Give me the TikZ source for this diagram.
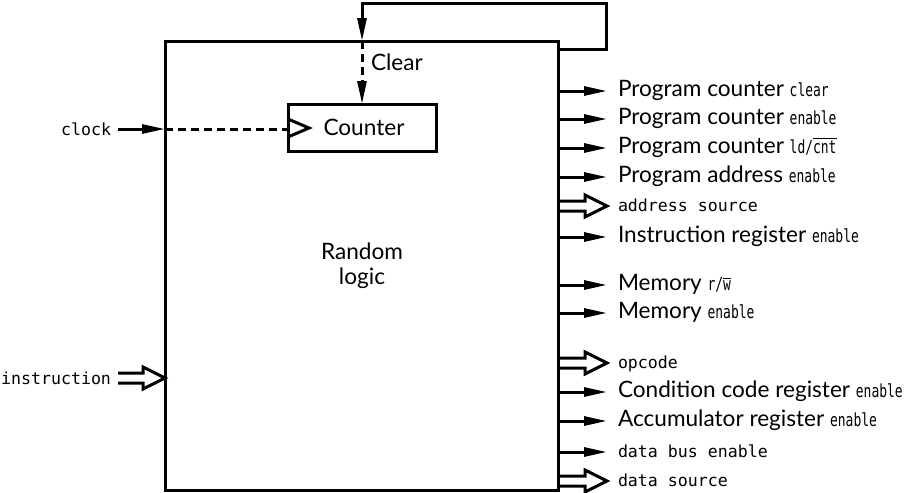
\documentclass[tikz,border=0pt]{standalone}
\usepackage{fontspec}
\setmainfont{Lato}
\newfontfamily\monof{DejaVu Sans Mono}
\newfontfamily\monon{DejaVu Sans Mono}[FakeStretch=0.72]
\usetikzlibrary{arrows.meta,calc}
\newcommand{\mt}[1]{{\monof\fontsize{8.3}{10}\selectfont #1}}
\newcommand{\mi}[1]{{\monon\fontsize{9}{10}\selectfont #1}}
\begin{document}
\begin{tikzpicture}[x=0.5pt,y=-0.5pt,
  every node/.style={font=\fontsize{11.3}{12.5}\selectfont, inner sep=0pt, outer sep=0pt},
  thick line/.style={line width=1.5pt},
  sig/.style={line width=1.5pt, -{Triangle[length=11.5pt,width=4.5pt]}},
  dashsig/.style={line width=1.5pt, dash pattern=on 4pt off 2.5pt},
  bus/.style={line width=1.5pt, line join=miter, to path={
     ($(\tikztostart)+(0,-5)$) -- ($(\tikztotarget)+(-22,-5)$) -- ($(\tikztotarget)+(-22,-11)$)
     -- (\tikztotarget) -- ($(\tikztotarget)+(-22,11)$) -- ($(\tikztotarget)+(-22,5)$)
     -- ($(\tikztostart)+(0,5)$)}},
  lbl/.style={anchor=west, text height=8pt, text depth=2.2pt}
]
\useasboundingbox (0,0) rectangle (907,493);

% main block
\node[draw, thick line, minimum width=196.5pt, minimum height=224.5pt] (box) at (361.5,265.5) {};
\node[align=center] (rl) at (362,266) {Random\\logic};

% counter
\node[draw, thick line, minimum width=74pt, minimum height=23.5pt] (ctr) at (362,127.5) {\hspace*{2pt}Counter};
\draw[thick line, line join=miter] (288,119) -- (309,128) -- (288,137);

% clear feedback loop
\coordinate (fbout) at (box.east |- 0,49);
\coordinate (fbr) at (606,49);
\coordinate (fbtr) at (606,3);
\coordinate (fbtl) at (362,3);
\coordinate (clrin) at (362,41);
\draw[sig, line join=miter] (fbout) -- (fbr) -- (fbtr) -- (fbtl) -- (clrin);
\draw[dashsig, -{Triangle[length=11.5pt,width=4.5pt]}] (clrin) -- (ctr.north);
\node[anchor=west] (clear) at (371,62) {Clear};

% clock
\node[anchor=east] (clock) at (111,129) {\mt{clock}};
\coordinate (clkin) at (box.west |- clock);
\draw[sig] (118,129) -- (clkin);
\draw[dashsig] (clkin) -- (288,129);

% instruction
\node[anchor=east] (instr) at (111,378) {\mt{instruction}};
\coordinate (instrs) at (118,378);
\coordinate (instrin) at (box.west |- instr);
\draw[bus] (instrs) to (instrin);

% outputs
\foreach \n/\yy/\kind/\txt in {
  1/91/sig/{Program counter \mi{clear}},
  2/119/sig/{Program counter \mi{enable}},
  3/148/sig/{Program counter \mi{ld/}$\overline{\mbox{\mi{cnt}}}$},
  4/177/sig/{Program address \mi{enable}},
  5/206/bus/{\mt{address source}},
  6/237/sig/{Instruction register \mi{enable}},
  7/285/sig/{Memory \mi{r/}$\overline{\mbox{\mi{w}}}$},
  8/313/sig/{Memory \mi{enable}},
  9/363/bus/{\mt{opcode}},
  10/392/sig/{Condition code register \mi{enable}},
  11/421/sig/{Accumulator register \mi{enable}},
  12/452/sig/{\mt{data bus enable}},
  13/481/bus/{\mt{data source}}}
{
  \node[lbl] (out\n) at (618,\yy) {\txt};
  \coordinate (tip\n) at (607,\yy);
  \coordinate (src\n) at (box.east |- tip\n);
  \draw[\kind] (src\n) to (tip\n);
}
\end{tikzpicture}
\end{document}
